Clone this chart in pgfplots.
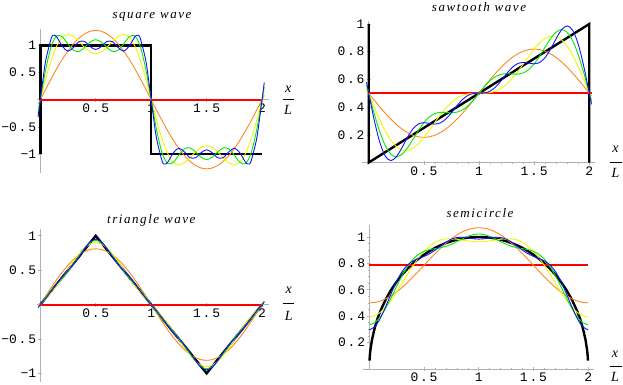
\documentclass[border=0pt]{standalone}
\usepackage{pgfplots}
\pgfplotsset{compat=1.18}
\usepackage{fontspec}
\setmainfont{Liberation Serif}
\newfontfamily\tickfont{Liberation Mono}
\newcommand\ts{\kern1.8pt}
\definecolor{corange}{RGB}{255,135,30}
\definecolor{cyellow}{RGB}{245,245,0}
\definecolor{cgreen}{RGB}{0,235,0}
\definecolor{cblue}{RGB}{20,20,255}
\pgfplotsset{
  panel/.style={
    scale only axis, axis lines=middle, clip=false,
    axis line style={-, draw=gray!60, line width=0.6pt},
    tick style={draw=gray!60, line width=0.6pt},
    major tick length=4pt, minor tick length=2pt,
    ticklabel style={font=\fontsize{13}{13}\selectfont\tickfont, inner sep=2pt},
    xticklabel style={anchor=north},
    xtick={0.5,1,1.5,2},
    xticklabels={0\ts.\ts5,1,1\ts.\ts5,2},
    minor x tick num=4,
    anchor=south west,
  },
  sq/.style={ytick={-1,-0.5,0.5,1}, yticklabels={−1,−0\ts.\ts5,0\ts.\ts5,1}, minor y tick num=4},
  pos/.style={ytick={0.2,0.4,0.6,0.8,1}, yticklabels={0\ts.\ts2,0\ts.\ts4,0\ts.\ts6,0\ts.\ts8,1}, minor y tick num=3},
  kk/.style={black, line width=2.4pt},
  rl/.style={color=red, line width=2pt},
  co/.style={corange, line width=0.9pt, smooth},
  cy/.style={cyellow, line width=0.9pt, smooth},
  cg/.style={cgreen, line width=0.9pt, smooth},
  cb/.style={cblue, line width=0.9pt, smooth},
}
\begin{document}
\begin{tikzpicture}
\path[use as bounding box] (0pt,0pt) rectangle (623pt,384pt);

% ---------------- square wave ----------------
\begin{axis}[panel, sq, at={(37pt,211pt)}, width=231.7pt, height=144pt,
  xmin=-0.03, xmax=2.06, ymin=-1.35, ymax=1.3]
\addplot[kk] coordinates {(0,-1) (0,1) (1,1) (1,-1) (2,-1)};
\addplot[rl] coordinates {(0,0) (2,0)};
\addplot[co] coordinates {(-0.02,-0.080) (0,0) (0.05,0.199) (0.1,0.393) (0.15,0.578) (0.2,0.748) (0.25,0.900) (0.3,1.030) (0.35,1.135) (0.4,1.211) (0.45,1.258) (0.5,1.273) (0.55,1.258) (0.6,1.211) (0.65,1.135) (0.7,1.030) (0.75,0.900) (0.8,0.748) (0.85,0.578) (0.9,0.393) (0.95,0.199) (1,0) (1.05,-0.199) (1.1,-0.393) (1.15,-0.578) (1.2,-0.748) (1.25,-0.900) (1.3,-1.030) (1.35,-1.135) (1.4,-1.211) (1.45,-1.258) (1.5,-1.273) (1.55,-1.258) (1.6,-1.211) (1.65,-1.135) (1.7,-1.030) (1.75,-0.900) (1.8,-0.748) (1.85,-0.578) (1.9,-0.393) (1.95,-0.199) (2,0) (2.02,0.080)};
\addplot[cy] coordinates {(-0.02,-0.160) (0,0) (0.05,0.392) (0.1,0.737) (0.15,0.997) (0.2,1.152) (0.25,1.200) (0.3,1.161) (0.35,1.068) (0.4,0.962) (0.45,0.879) (0.5,0.849) (0.55,0.879) (0.6,0.962) (0.65,1.068) (0.7,1.161) (0.75,1.200) (0.8,1.152) (0.85,0.997) (0.9,0.737) (0.95,0.392) (1,0) (1.05,-0.392) (1.1,-0.737) (1.15,-0.997) (1.2,-1.152) (1.25,-1.200) (1.3,-1.161) (1.35,-1.068) (1.4,-0.962) (1.45,-0.879) (1.5,-0.849) (1.55,-0.879) (1.6,-0.962) (1.65,-1.068) (1.7,-1.161) (1.75,-1.200) (1.8,-1.152) (1.85,-0.997) (1.9,-0.737) (1.95,-0.392) (2,0) (2.02,0.160)};
\addplot[cg] coordinates {(-0.02,-0.238) (0,0) (0.05,0.572) (0.1,0.992) (0.15,1.177) (0.2,1.152) (0.25,1.020) (0.3,0.907) (0.35,0.888) (0.4,0.962) (0.45,1.060) (0.5,1.104) (0.55,1.060) (0.6,0.962) (0.65,0.888) (0.7,0.907) (0.75,1.020) (0.8,1.152) (0.85,1.177) (0.9,0.992) (0.95,0.572) (1,0) (1.05,-0.572) (1.1,-0.992) (1.15,-1.177) (1.2,-1.152) (1.25,-1.020) (1.3,-0.907) (1.35,-0.888) (1.4,-0.962) (1.45,-1.060) (1.5,-1.104) (1.55,-1.060) (1.6,-0.962) (1.65,-0.888) (1.7,-0.907) (1.75,-1.020) (1.8,-1.152) (1.85,-1.177) (1.9,-0.992) (1.95,-0.572) (2,0) (2.02,0.238)};
\addplot[cb] coordinates {(-0.02,-0.316) (0,0) (0.025,0.391) (0.05,0.734) (0.1,1.139) (0.125,1.184) (0.15,1.149) (0.2,0.979) (0.25,0.892) (0.3,0.963) (0.35,1.068) (0.4,1.069) (0.45,0.977) (0.5,0.922) (0.55,0.977) (0.6,1.069) (0.65,1.068) (0.7,0.963) (0.75,0.892) (0.8,0.979) (0.85,1.149) (0.875,1.184) (0.9,1.139) (0.95,0.734) (0.975,0.391) (1,0) (1.025,-0.391) (1.05,-0.734) (1.1,-1.139) (1.125,-1.184) (1.15,-1.149) (1.2,-0.979) (1.25,-0.892) (1.3,-0.963) (1.35,-1.068) (1.4,-1.069) (1.45,-0.977) (1.5,-0.922) (1.55,-0.977) (1.6,-1.069) (1.65,-1.068) (1.7,-0.963) (1.75,-0.892) (1.8,-0.979) (1.85,-1.149) (1.875,-1.184) (1.9,-1.139) (1.95,-0.734) (1.975,-0.391) (2,0) (2.02,0.316)};
\end{axis}

% ---------------- sawtooth wave ----------------
\begin{axis}[panel, pos, at={(362.1pt,220.1pt)}, width=232.7pt, height=142.7pt,
  xmin=-0.06, xmax=2.05, ymin=-0.01, ymax=1.02]
\addplot[kk] coordinates {(0,1) (0,0) (2,1) (2,0)};
\addplot[rl] coordinates {(0,0.5) (2.02,0.5)};
\addplot[co] coordinates {(-0.02,0.520) (0,0.5) (0.05,0.4502) (0.1,0.4016) (0.15,0.3555) (0.2,0.3129) (0.25,0.2749) (0.3,0.2425) (0.35,0.2164) (0.4,0.1973) (0.45,0.1856) (0.5,0.1817) (0.55,0.1856) (0.6,0.1973) (0.65,0.2164) (0.7,0.2425) (0.75,0.2749) (0.8,0.3129) (0.85,0.3555) (0.9,0.4016) (0.95,0.4502) (1,0.5) (1.05,0.5498) (1.1,0.5984) (1.15,0.6445) (1.2,0.6871) (1.25,0.7251) (1.3,0.7575) (1.35,0.7836) (1.4,0.8027) (1.45,0.8144) (1.5,0.8183) (1.55,0.8144) (1.6,0.8027) (1.65,0.7836) (1.7,0.7575) (1.75,0.7251) (1.8,0.6871) (1.85,0.6445) (1.9,0.5984) (1.95,0.5498) (2,0.5) (2.02,0.480)};
\addplot[cy] coordinates {(-0.02,0.540) (0,0.5) (0.05,0.4010) (0.1,0.3081) (0.15,0.2267) (0.2,0.1615) (0.25,0.1158) (0.3,0.0911) (0.35,0.0876) (0.4,0.1037) (0.45,0.1364) (0.5,0.1817) (0.55,0.2348) (0.6,0.2908) (0.65,0.3451) (0.7,0.3939) (0.75,0.4341) (0.8,0.4643) (0.85,0.4842) (0.9,0.4952) (0.95,0.4994) (1,0.5) (1.05,0.5006) (1.1,0.5048) (1.15,0.5158) (1.2,0.5357) (1.25,0.5659) (1.3,0.6061) (1.35,0.6549) (1.4,0.7092) (1.45,0.7652) (1.5,0.8183) (1.55,0.8636) (1.6,0.8963) (1.65,0.9124) (1.7,0.9089) (1.75,0.8842) (1.8,0.8385) (1.85,0.7733) (1.9,0.6919) (1.95,0.5990) (2,0.5) (2.02,0.460)};
\addplot[cg] coordinates {(-0.02,0.560) (0,0.5) (0.05,0.3529) (0.1,0.2222) (0.15,0.1219) (0.2,0.0606) (0.25,0.0407) (0.3,0.0583) (0.35,0.1042) (0.4,0.1661) (0.45,0.2310) (0.5,0.2878) (0.55,0.3293) (0.6,0.3532) (0.65,0.3617) (0.7,0.3611) (0.75,0.3590) (0.8,0.3634) (0.85,0.3795) (0.9,0.4093) (0.95,0.4512) (1,0.5) (1.05,0.5488) (1.1,0.5907) (1.15,0.6205) (1.2,0.6366) (1.25,0.6410) (1.3,0.6389) (1.35,0.6383) (1.4,0.6468) (1.45,0.6707) (1.5,0.7122) (1.55,0.7690) (1.6,0.8339) (1.65,0.8958) (1.7,0.9417) (1.75,0.9593) (1.8,0.9394) (1.85,0.8781) (1.9,0.7778) (1.95,0.6471) (2,0.5) (2.02,0.440)};
\addplot[cb] coordinates {(-0.02,0.580) (0,0.5) (0.05,0.3061) (0.1,0.1465) (0.15,0.0462) (0.2,0.0138) (0.25,0.0407) (0.3,0.1051) (0.35,0.1799) (0.4,0.2418) (0.45,0.2778) (0.5,0.2878) (0.55,0.2825) (0.6,0.2775) (0.65,0.2860) (0.7,0.3143) (0.75,0.3590) (0.8,0.4102) (0.85,0.4551) (0.9,0.4850) (0.95,0.4980) (1,0.5) (1.05,0.5020) (1.1,0.5150) (1.15,0.5449) (1.2,0.5898) (1.25,0.6410) (1.3,0.6857) (1.35,0.7140) (1.4,0.7225) (1.45,0.7175) (1.5,0.7122) (1.55,0.7222) (1.6,0.7582) (1.65,0.8201) (1.7,0.8949) (1.75,0.9593) (1.8,0.9862) (1.85,0.9538) (1.9,0.8535) (1.95,0.6939) (2,0.5) (2.02,0.420)};
\end{axis}

% ---------------- triangle wave ----------------
\begin{axis}[panel, sq, at={(37pt,2.4pt)}, width=231.7pt, height=152.7pt,
  xmin=-0.03, xmax=2.06, ymin=-1.12, ymax=1.1]
\addplot[kk] coordinates {(0,0) (0.5,1) (1.5,-1) (2,0)};
\addplot[rl] coordinates {(0,0) (2,0)};
\addplot[co] coordinates {(-0.02,-0.0509) (0,0) (0.05,0.1268) (0.1,0.2505) (0.15,0.3680) (0.2,0.4765) (0.25,0.5732) (0.3,0.6558) (0.35,0.7222) (0.4,0.7709) (0.45,0.8006) (0.5,0.8106) (0.55,0.8006) (0.6,0.7709) (0.65,0.7222) (0.7,0.6558) (0.75,0.5732) (0.8,0.4765) (0.85,0.3680) (0.9,0.2505) (0.95,0.1268) (1,0) (1.05,-0.1268) (1.1,-0.2505) (1.15,-0.3680) (1.2,-0.4765) (1.25,-0.5732) (1.3,-0.6558) (1.35,-0.7222) (1.4,-0.7709) (1.45,-0.8006) (1.5,-0.8106) (1.55,-0.8006) (1.6,-0.7709) (1.65,-0.7222) (1.7,-0.6558) (1.75,-0.5732) (1.8,-0.4765) (1.85,-0.3680) (1.9,-0.2505) (1.95,-0.1268) (2,0) (2.02,0.0509)};
\addplot[cy] coordinates {(-0.02,-0.0340) (0,0) (0.05,0.0859) (0.1,0.1776) (0.15,0.2791) (0.2,0.3908) (0.25,0.5094) (0.3,0.6279) (0.35,0.7363) (0.4,0.8239) (0.45,0.8808) (0.5,0.9006) (0.55,0.8808) (0.6,0.8239) (0.65,0.7363) (0.7,0.6279) (0.75,0.5094) (0.8,0.3908) (0.85,0.2791) (0.9,0.1776) (0.95,0.0859) (1,0) (1.05,-0.0859) (1.1,-0.1776) (1.15,-0.2791) (1.2,-0.3908) (1.25,-0.5094) (1.3,-0.6279) (1.35,-0.7363) (1.4,-0.8239) (1.45,-0.8808) (1.5,-0.9006) (1.55,-0.8808) (1.6,-0.8239) (1.65,-0.7363) (1.7,-0.6279) (1.75,-0.5094) (1.8,-0.3908) (1.85,-0.2791) (1.9,-0.1776) (1.95,-0.0859) (2,0) (2.02,0.0340)};
\addplot[cg] coordinates {(-0.02,-0.0441) (0,0) (0.05,0.1089) (0.1,0.2100) (0.15,0.3020) (0.2,0.3908) (0.25,0.4865) (0.3,0.5955) (0.35,0.7134) (0.4,0.8239) (0.45,0.9038) (0.5,0.9330) (0.55,0.9038) (0.6,0.8239) (0.65,0.7134) (0.7,0.5955) (0.75,0.4865) (0.8,0.3908) (0.85,0.3020) (0.9,0.2100) (0.95,0.1089) (1,0) (1.05,-0.1089) (1.1,-0.2100) (1.15,-0.3020) (1.2,-0.3908) (1.25,-0.4865) (1.3,-0.5955) (1.35,-0.7134) (1.4,-0.8239) (1.45,-0.9038) (1.5,-0.9330) (1.55,-0.9038) (1.6,-0.8239) (1.65,-0.7134) (1.7,-0.5955) (1.75,-0.4865) (1.8,-0.3908) (1.85,-0.3020) (1.9,-0.2100) (1.95,-0.1089) (2,0) (2.02,0.0441)};
\addplot[cb] coordinates {(-0.02,-0.0370) (0,0) (0.05,0.0941) (0.1,0.1966) (0.15,0.3046) (0.2,0.4065) (0.25,0.4982) (0.3,0.5904) (0.35,0.6970) (0.4,0.8141) (0.45,0.9113) (0.5,0.9496) (0.55,0.9113) (0.6,0.8141) (0.65,0.6970) (0.7,0.5904) (0.75,0.4982) (0.8,0.4065) (0.85,0.3046) (0.9,0.1966) (0.95,0.0941) (1,0) (1.05,-0.0941) (1.1,-0.1966) (1.15,-0.3046) (1.2,-0.4065) (1.25,-0.4982) (1.3,-0.5904) (1.35,-0.6970) (1.4,-0.8141) (1.45,-0.9113) (1.5,-0.9496) (1.55,-0.9113) (1.6,-0.8141) (1.65,-0.6970) (1.7,-0.5904) (1.75,-0.4982) (1.8,-0.4065) (1.85,-0.3046) (1.9,-0.1966) (1.95,-0.0941) (2,0) (2.02,0.0370)};
\end{axis}

% ---------------- semicircle ----------------
\begin{axis}[panel, pos, at={(362.7pt,13.7pt)}, width=231pt, height=145.2pt,
  xmin=-0.06, xmax=2.05, ymin=-0.01, ymax=1.09]
\addplot[kk] coordinates {(0.002,0.063) (0.005,0.100) (0.01,0.141) (0.025,0.222) (0.05,0.312) (0.075,0.382) (0.1,0.436) (0.15,0.527) (0.2,0.600) (0.25,0.661) (0.3,0.714) (0.35,0.760) (0.4,0.800) (0.45,0.835) (0.5,0.866) (0.55,0.893) (0.6,0.917) (0.65,0.937) (0.7,0.954) (0.75,0.968) (0.8,0.980) (0.85,0.989) (0.9,0.995) (0.95,0.999) (1,1) (1.05,0.999) (1.1,0.995) (1.15,0.989) (1.2,0.980) (1.25,0.968) (1.3,0.954) (1.35,0.937) (1.4,0.917) (1.45,0.893) (1.5,0.866) (1.55,0.835) (1.6,0.800) (1.65,0.760) (1.7,0.714) (1.75,0.661) (1.8,0.600) (1.85,0.527) (1.9,0.436) (1.925,0.382) (1.95,0.312) (1.975,0.222) (1.99,0.141) (1.995,0.100) (1.998,0.063)};
\addplot[rl] coordinates {(0,0.7854) (2,0.7854)};
\addplot[co] coordinates {(0,0.5008) (0.05,0.5043) (0.1,0.5147) (0.15,0.5318) (0.2,0.5552) (0.25,0.5842) (0.3,0.6181) (0.35,0.6562) (0.4,0.6975) (0.45,0.7409) (0.5,0.7854) (0.55,0.8299) (0.6,0.8733) (0.65,0.9146) (0.7,0.9527) (0.75,0.9866) (0.8,1.0156) (0.85,1.0390) (0.9,1.0561) (0.95,1.0665) (1,1.0700) (1.05,1.0665) (1.1,1.0561) (1.15,1.0390) (1.2,1.0156) (1.25,0.9866) (1.3,0.9527) (1.35,0.9146) (1.4,0.8733) (1.45,0.8299) (1.5,0.7854) (1.55,0.7409) (1.6,0.6975) (1.65,0.6562) (1.7,0.6181) (1.75,0.5842) (1.8,0.5552) (1.85,0.5318) (1.9,0.5147) (1.95,0.5043) (2,0.5008)};
\addplot[cy] coordinates {(0,0.3946) (0.05,0.4033) (0.1,0.4288) (0.15,0.4694) (0.2,0.5224) (0.25,0.5842) (0.3,0.6509) (0.35,0.7186) (0.4,0.7834) (0.45,0.8419) (0.5,0.8916) (0.55,0.9309) (0.6,0.9592) (0.65,0.9770) (0.7,0.9855) (0.75,0.9866) (0.8,0.9828) (0.85,0.9766) (0.9,0.9702) (0.95,0.9655) (1,0.9638) (1.05,0.9655) (1.1,0.9702) (1.15,0.9766) (1.2,0.9828) (1.25,0.9866) (1.3,0.9855) (1.35,0.9770) (1.4,0.9592) (1.45,0.9309) (1.5,0.8916) (1.55,0.8419) (1.6,0.7834) (1.65,0.7186) (1.7,0.6509) (1.75,0.5842) (1.8,0.5224) (1.85,0.4694) (1.9,0.4288) (1.95,0.4033) (2,0.3946)};
\addplot[cg] coordinates {(0,0.3357) (0.05,0.3508) (0.1,0.3942) (0.15,0.4602) (0.2,0.5406) (0.25,0.6258) (0.3,0.7069) (0.35,0.7768) (0.4,0.8311) (0.45,0.8686) (0.5,0.8916) (0.55,0.9042) (0.6,0.9115) (0.65,0.9188) (0.7,0.9295) (0.75,0.9450) (0.8,0.9646) (0.85,0.9858) (0.9,1.0048) (0.95,1.0180) (1,1.0227) (1.05,1.0180) (1.1,1.0048) (1.15,0.9858) (1.2,0.9646) (1.25,0.9450) (1.3,0.9295) (1.35,0.9188) (1.4,0.9115) (1.45,0.9042) (1.5,0.8916) (1.55,0.8686) (1.6,0.8311) (1.65,0.7768) (1.7,0.7069) (1.75,0.6258) (1.8,0.5406) (1.85,0.4602) (1.9,0.3942) (1.95,0.3508) (2,0.3357)};
\addplot[cb] coordinates {(0,0.2971) (0.05,0.3196) (0.1,0.3823) (0.15,0.4721) (0.2,0.5718) (0.25,0.6644) (0.3,0.7381) (0.35,0.7887) (0.4,0.8192) (0.45,0.8374) (0.5,0.8530) (0.55,0.8730) (0.6,0.8996) (0.65,0.9307) (0.7,0.9607) (0.75,0.9836) (0.8,0.9958) (0.85,0.9977) (0.9,0.9929) (0.95,0.9868) (1,0.9841) (1.05,0.9868) (1.1,0.9929) (1.15,0.9977) (1.2,0.9958) (1.25,0.9836) (1.3,0.9607) (1.35,0.9307) (1.4,0.8996) (1.45,0.8730) (1.5,0.8530) (1.55,0.8374) (1.6,0.8192) (1.65,0.7887) (1.7,0.7381) (1.75,0.6644) (1.8,0.5718) (1.85,0.4721) (1.9,0.3823) (1.95,0.3196) (2,0.2971)};
\end{axis}

% ---------------- titles ----------------
\begin{scope}[every node/.style={font=\fontsize{13}{13}\selectfont\itshape\addfontfeature{LetterSpace=12}, inner sep=0pt}]
\node[anchor=base] at (152pt,366pt) {square wave};
\node[anchor=base] at (479pt,372.5pt) {sawtooth wave};
\node[anchor=base] at (151.3pt,161pt) {triangle wave};
\node[anchor=base] at (480pt,167pt) {semicircle};
\end{scope}

% ---------------- x/L labels ----------------
\begin{scope}[every node/.style={font=\fontsize{14}{14}\selectfont\itshape, inner sep=0pt}]
\node at (288.3pt,294.7pt) {x};
\node at (288pt,274pt) {L};
\draw[line width=0.7pt] (282.7pt,284.5pt) -- (294pt,284.5pt);
\node at (615.5pt,234.5pt) {x};
\node at (615.5pt,210.7pt) {L};
\draw[line width=0.7pt] (609.5pt,221.7pt) -- (621.7pt,221.7pt);
\node at (288.7pt,94pt) {x};
\node at (288.7pt,68pt) {L};
\draw[line width=0.7pt] (282.7pt,80.3pt) -- (294pt,80.3pt);
\node at (615pt,29.8pt) {x};
\node at (615pt,7.4pt) {L};
\draw[line width=0.7pt] (609.5pt,17.8pt) -- (621.5pt,17.8pt);
\end{scope}
\end{tikzpicture}
\end{document}
